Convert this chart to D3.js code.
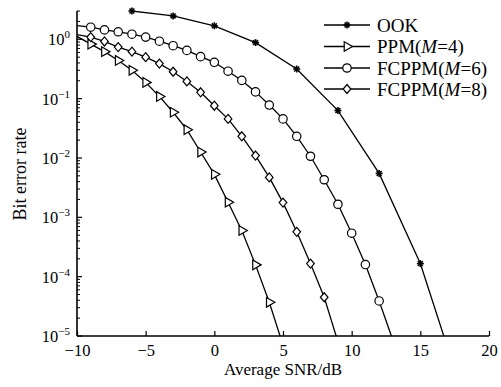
<!DOCTYPE html>
<html><head><meta charset="utf-8">
<script src="https://cdn.jsdelivr.net/npm/d3@7"></script>
<style>body{margin:0;background:#fff}svg{display:block}text{font-family:"Liberation Serif","Times New Roman",serif;fill:#000}</style>
</head><body>
<script>
const seriesNames = ["OOK", "PPM(M=4)", "FCPPM(M=6)", "FCPPM(M=8)"];
const ookX = [-6, -3, 0, 3, 6, 9, 12, 15, 18];
const ookY = [3.0, 2.48, 1.69, 0.88, 0.316, 0.063, 0.0055, 1.66e-4, 1.2e-6];
const ppmX = [-10,-9,-8,-7,-6,-5,-4,-3,-2,-1,0,1,2,3,4,5];
const ppmY = [1.12,0.83,0.62,0.44,0.30,0.188,0.109,0.059,0.030,0.0126,0.0053,0.0018,6.0e-4,1.58e-4,3.7e-5,7e-6];
const m6X = [-10,-9,-8,-7,-6,-5,-4,-3,-2,-1,0,1,2,3,4,5,6,7,8,9,10,11,12,13];
const m6Y = [1.70,1.60,1.44,1.34,1.22,1.09,0.93,0.78,0.65,0.51,0.41,0.29,0.203,0.130,0.078,0.0456,0.0232,0.0107,0.0043,0.00166,5.4e-4,1.6e-4,3.9e-5,8.5e-6];
const m8X = [-10,-9,-8,-7,-6,-5,-4,-3,-2,-1,0,1,2,3,4,5,6,7,8,9];
const m8Y = [1.2,1.09,0.92,0.74,0.62,0.50,0.39,0.284,0.195,0.128,0.076,0.0456,0.0232,0.0110,0.0047,0.00177,5.7e-4,1.66e-4,4.5e-5,8e-6];
const xTicks = [-10,-5,0,5,10,15,20];
const yTickExps = [0,-1,-2,-3,-4,-5];

const W = 501, H = 387;
const svg = d3.select("body").append("svg").attr("width", W).attr("height", H);
const x = d3.scaleLinear().domain([-10, 20]).range([77, 489]);
const y = d3.scaleLog().domain([1e-5, 3]).range([336, 11]);

svg.append("clipPath").attr("id","clip").append("rect")
  .attr("x", 77).attr("y", 11).attr("width", 412).attr("height", 325);

// axes
const xAxis = svg.append("g").attr("transform","translate(0,336)")
  .call(d3.axisBottom(x).tickValues(xTicks).tickSize(-5).tickFormat(d => d < 0 ? "\u2212" + Math.abs(d) : d));
xAxis.select(".domain").attr("d", "M77,0H489").attr("stroke-width", 1.6);
xAxis.selectAll(".tick line").attr("stroke-width", 1.2);
xAxis.selectAll(".tick text").attr("font-size", 16.5).attr("dy", 0).attr("y", 20)
  .style("font-family", "Liberation Serif");

const yg = svg.append("g").attr("transform","translate(77,0)");
yg.append("line").attr("x1",0).attr("x2",0).attr("y1",y(3)).attr("y2",336).attr("stroke","#000").attr("stroke-width",1.6);
// minor ticks
const minor = [];
for (let e = -5; e <= 0; e++) for (let m = 2; m <= 9; m++) { const v = m * Math.pow(10, e); if (v <= 3) minor.push(v); }
yg.selectAll("line.minor").data(minor).join("line").attr("class","minor")
  .attr("x1",0).attr("x2",3).attr("y1",d=>y(d)).attr("y2",d=>y(d)).attr("stroke","#000").attr("stroke-width",1);
yg.selectAll("line.major").data(yTickExps).join("line").attr("class","major")
  .attr("x1",0).attr("x2",5).attr("y1",d=>y(Math.pow(10,d))).attr("y2",d=>y(Math.pow(10,d))).attr("stroke","#000").attr("stroke-width",1.2);
const yl = yg.selectAll("text.yl").data(yTickExps).join("text").attr("class","yl")
  .attr("x", -7).attr("y", d => y(Math.pow(10,d)) + 6).attr("text-anchor","end").attr("font-size",16.5);
yl.append("tspan").text("10");
yl.append("tspan").attr("dy", -7).attr("font-size", 11).text(d => d < 0 ? "\u2212" + Math.abs(d) : d);

// titles
svg.append("text").attr("x", 283).attr("y", 375).attr("text-anchor","middle").attr("font-size",17).text("Average SNR/dB");
svg.append("text").attr("transform","translate(26,174) rotate(-90)").attr("text-anchor","middle").attr("font-size",18).text("Bit error rate");

// marker drawers
const tri = d3.symbol().type(d3.symbolTriangle).size(40);
function drawMarker(g, kind, cx, cy) {
  if (kind === "star") {
    const r = 3.5;
    const p = g.append("g").attr("transform",`translate(${cx},${cy})`);
    [[-r,0,r,0],[0,-r,0,r],[-r*0.7,-r*0.7,r*0.7,r*0.7],[-r*0.7,r*0.7,r*0.7,-r*0.7]].forEach(a =>
      p.append("line").attr("x1",a[0]).attr("y1",a[1]).attr("x2",a[2]).attr("y2",a[3]).attr("stroke","#000").attr("stroke-width",1.6));
  } else if (kind === "tri") {
    g.append("path").attr("d", tri()).attr("transform",`translate(${cx},${cy}) rotate(90)`)
      .attr("fill","#fff").attr("stroke","#000").attr("stroke-width",1.2);
  } else if (kind === "circle") {
    g.append("circle").attr("cx",cx).attr("cy",cy).attr("r",4.2).attr("fill","#fff").attr("stroke","#000").attr("stroke-width",1.2);
  } else {
    const r = 4.5;
    g.append("path").attr("d",`M${cx},${cy-r}L${cx+r*0.85},${cy}L${cx},${cy+r}L${cx-r*0.85},${cy}Z`)
      .attr("fill","#fff").attr("stroke","#000").attr("stroke-width",1.2);
  }
}

const series = [
  {xs: ookX, ys: ookY, kind: "star"},
  {xs: ppmX, ys: ppmY, kind: "tri"},
  {xs: m6X, ys: m6Y, kind: "circle"},
  {xs: m8X, ys: m8Y, kind: "diamond"}
];
const line = d3.line().x(d => x(d[0])).y(d => y(d[1]));
const plot = svg.append("g").attr("clip-path","url(#clip)");
series.forEach(s => {
  const pts = s.xs.map((v,i) => [v, s.ys[i]]);
  plot.append("path").attr("d", line(pts)).attr("fill","none").attr("stroke","#000").attr("stroke-width",1.3);
});
series.forEach(s => {
  const g = svg.append("g");
  s.xs.forEach((v,i) => { if (v > -10 && s.ys[i] >= 1e-5) drawMarker(g, s.kind, x(v), y(s.ys[i])); });
});

// legend
const legRows = [25, 46.5, 68, 89];
const lg = svg.append("g");
series.forEach((s, i) => {
  const ly = legRows[i];
  lg.append("line").attr("x1",324).attr("x2",370).attr("y1",ly).attr("y2",ly).attr("stroke","#000").attr("stroke-width",1.3);
  drawMarker(lg, s.kind, 347, ly);
  const t = lg.append("text").attr("x",377).attr("y",ly+6.5).attr("font-size",19);
  const name = seriesNames[i];
  const m = name.indexOf("M=");
  if (m < 0) t.text(name);
  else {
    t.append("tspan").text(name.slice(0, m));
    t.append("tspan").attr("font-style","italic").text("M");
    t.append("tspan").text(name.slice(m+1));
  }
});
</script>
</body></html>
